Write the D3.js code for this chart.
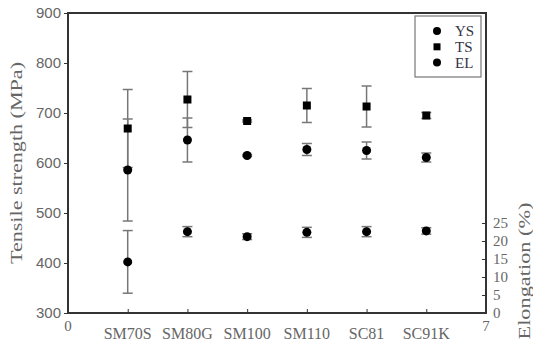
<!DOCTYPE html>
<html><head><meta charset="utf-8">
<script src="https://cdn.jsdelivr.net/npm/d3@7"></script>
<style>body{margin:0;background:#fff}svg{display:block}</style>
</head><body>
<svg id="c" width="533" height="347"></svg>
<script>
const categories = ["SM70S","SM80G","SM100","SM110","SC81","SC91K"];
const ysValues = [586, 646, 615, 627, 625, 611];
const ysErrors = [102, 44, 2, 12, 17, 9];
const tsValues = [669, 727, 684, 715, 713, 695];
const tsErrors = [78, 56, 2, 34, 41, 6];
const elValues = [14.2, 22.6, 21.2, 22.4, 22.6, 22.8];
const elErrors = [8.7, 1.4, 0.8, 1.4, 1.4, 0.9];
const leftTicks = [300, 400, 500, 600, 700, 800, 900];
const rightTicks = [0, 5, 10, 15, 20, 25];
const xEndLabels = ["0", "7"];

const svg = d3.select("#c");
const L = 68, R = 486, T = 13, B = 313;
const x = d3.scaleLinear().domain([0, 7]).range([L, R]);
const y = d3.scaleLinear().domain([300, 900]).range([B, T]);
const y2 = d3.scaleLinear().domain([0, 300/3.6]).range([B, T]);
const axisCol = "#333", txtCol = "#666";

// left axis
const gl = svg.append("g").attr("transform", `translate(${L},0)`)
  .call(d3.axisLeft(y).tickValues(leftTicks).tickSize(4).tickPadding(3));
gl.select(".domain").remove();
gl.selectAll("line").attr("stroke", axisCol);
gl.selectAll("text").attr("font-family", "Liberation Sans, Arial, sans-serif")
  .attr("font-size", 15).attr("fill", txtCol);

// right axis
const gr = svg.append("g").attr("transform", `translate(${R},0)`)
  .call(d3.axisRight(y2).tickValues(rightTicks).tickSize(-4).tickPadding(7));
gr.select(".domain").remove();
gr.selectAll("line").attr("stroke", axisCol);
gr.selectAll("text").attr("font-family", "Liberation Serif, serif")
  .attr("font-size", 15).attr("fill", txtCol);

// bottom axis ticks (inward)
const gb = svg.append("g").attr("transform", `translate(0,${B})`)
  .call(d3.axisBottom(x).tickValues([1,2,3,4,5,6]).tickSize(-4).tickFormat(""));
gb.select(".domain").remove();
gb.selectAll("line").attr("stroke", axisCol);

// category labels
svg.append("g").selectAll("text").data(categories).join("text")
  .attr("x", (d, i) => x(i + 1)).attr("y", 339)
  .attr("text-anchor", "middle")
  .attr("font-family", "Liberation Serif, serif").attr("font-size", 16)
  .attr("fill", txtCol).text(d => d);

// 0 and 7 labels
svg.append("g").selectAll("text").data(xEndLabels).join("text")
  .attr("x", d => x(+d)).attr("y", 331)
  .attr("text-anchor", "middle")
  .attr("font-family", "Liberation Serif, serif").attr("font-size", 15)
  .attr("fill", txtCol).text(d => d);

// frame
svg.append("rect").attr("x", L).attr("y", T).attr("width", R - L).attr("height", B - T)
  .attr("fill", "none").attr("stroke", axisCol).attr("stroke-width", 2);

// axis titles
svg.append("text").attr("transform", `translate(22,163) rotate(-90)`)
  .attr("text-anchor", "middle").attr("font-family", "Liberation Serif, serif")
  .attr("font-size", 17).attr("fill", txtCol)
  .attr("textLength", 202).attr("lengthAdjust", "spacingAndGlyphs")
  .text("Tensile strength (MPa)");
svg.append("text").attr("transform", `translate(530,271) rotate(-90)`)
  .attr("text-anchor", "middle").attr("font-family", "Liberation Serif, serif")
  .attr("font-size", 17).attr("fill", txtCol)
  .attr("textLength", 137).attr("lengthAdjust", "spacingAndGlyphs")
  .text("Elongation (%)");

// error bars
function errBars(vals, errs, sc) {
  const g = svg.append("g").attr("stroke", "#777").attr("stroke-width", 1.5);
  vals.forEach((v, i) => {
    const cx = x(i + 1), y1 = sc(v + errs[i]), y0 = sc(v - errs[i]);
    g.append("line").attr("x1", cx).attr("x2", cx).attr("y1", y1).attr("y2", y0);
    [y1, y0].forEach(yy => g.append("line").attr("x1", cx - 5).attr("x2", cx + 5)
      .attr("y1", yy).attr("y2", yy));
  });
}
errBars(ysValues, ysErrors, y);
errBars(tsValues, tsErrors, y);
errBars(elValues, elErrors, y2);

// markers
svg.append("g").selectAll("circle").data(ysValues).join("circle")
  .attr("cx", (d, i) => x(i + 1)).attr("cy", d => y(d)).attr("r", 4.5).attr("fill", "#000");
svg.append("g").selectAll("rect").data(tsValues).join("rect")
  .attr("x", (d, i) => x(i + 1) - 4).attr("y", d => y(d) - 4)
  .attr("width", 8).attr("height", 8).attr("fill", "#000");
svg.append("g").selectAll("circle").data(elValues).join("circle")
  .attr("cx", (d, i) => x(i + 1)).attr("cy", d => y2(d)).attr("r", 4.5).attr("fill", "#000");

// legend
const lg = svg.append("g");
lg.append("rect").attr("x", 415).attr("y", 16).attr("width", 66).attr("height", 61)
  .attr("fill", "#fff").attr("stroke", "#777").attr("stroke-width", 1.2);
const legendItems = ["YS", "TS", "EL"];
legendItems.forEach((t, i) => {
  const ly = 31 + i * 15.8;
  if (t === "TS") lg.append("rect").attr("x", 433.5).attr("y", ly - 3.5).attr("width", 7).attr("height", 7).attr("fill", "#000");
  else lg.append("circle").attr("cx", 437).attr("cy", ly).attr("r", 4).attr("fill", "#000");
  lg.append("text").attr("x", 455).attr("y", ly + 5).attr("font-family", "Liberation Serif, serif")
    .attr("font-size", 15).attr("fill", "#334").text(t);
});
</script>
</body></html>
